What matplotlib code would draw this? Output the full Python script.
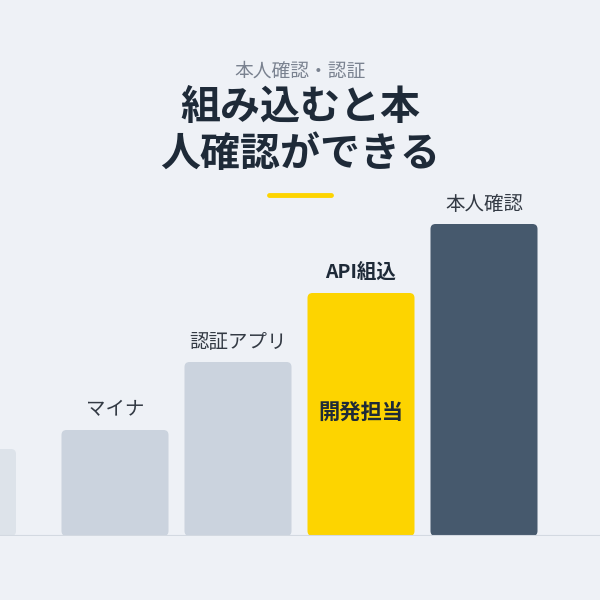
import numpy as np
import matplotlib
matplotlib.use('Agg')
import matplotlib.pyplot as plt
from matplotlib.patches import FancyBboxPatch

plt.rcParams['font.family'] = ['Noto Sans CJK JP', 'DejaVu Sans']

# data
categories = ['', 'マイナ', '認証アプリ', 'API組込', '本人確認']
values = [87, 106, 174, 243, 312]
bar_colors = ['#dde3ea', '#cbd3de', '#cbd3de', '#fdd400', '#46596d']
subtitle = '本人確認・認証'
title = '組み込むと本\n人確認ができる'
inner_label = '開発担当'

bg = '#eef1f6'
fig = plt.figure(figsize=(6, 6), dpi=100, facecolor=bg)

# axes: 1 y unit = 1 px, 1 x unit = bar pitch (123 px)
pitch = 123
ax = fig.add_axes([0, 64 / 600, 1, 536 / 600])
ax.set_facecolor(bg)
x0 = 1 - 115 / pitch
ax.set_xlim(x0, x0 + 600 / pitch)
ax.set_ylim(0, 536)
ax.axis('off')

xs = np.arange(len(values), dtype=float)
xs[0] -= 0.24  # first bar is cut off at the left edge
width = 107 / pitch
bars = ax.bar(xs, values, width=width, color=bar_colors)
for rect, c in zip(bars, bar_colors):
    rect.set_visible(False)
    x, y = rect.get_x(), rect.get_y()
    w, h = rect.get_width(), rect.get_height()
    r = 5 / pitch
    p = FancyBboxPatch((x, y), w, h, boxstyle=f'round,pad=0,rounding_size={r}',
                       mutation_aspect=pitch, facecolor=c, edgecolor='none', zorder=2)
    ax.add_patch(p)

# baseline
ax.axhline(0, color='#d3d9e1', lw=1.5, zorder=3)

for i, (cat, v) in enumerate(zip(categories, values)):
    if not cat:
        continue
    if i == 3:
        ax.text(xs[i], v + 20, cat, ha='center', va='center', fontsize=14,
                fontweight='bold', color='#1e2a38')
        ax.text(xs[i], 123, inner_label, ha='center', va='center', fontsize=15.3,
                fontweight='bold', color='#1e2a38')
    else:
        ax.text(xs[i], v + 20, cat, ha='center', va='center', fontsize=14,
                color='#333a44')

fig.text(0.5, 1 - 71 / 600, subtitle, ha='center', va='center', fontsize=13.5,
         color='#7a8290')
fig.text(0.5, 1 - 131 / 600, title, ha='center', va='center', fontsize=28.8,
         fontweight='bold', color='#1e2a38', linespacing=1.18)
fig.add_artist(plt.Line2D([269 / 600, 331 / 600], [1 - 195 / 600] * 2,
                          color='#fdd400', lw=3.5, solid_capstyle='round'))

fig.savefig('out.png', dpi=100, facecolor=bg)
